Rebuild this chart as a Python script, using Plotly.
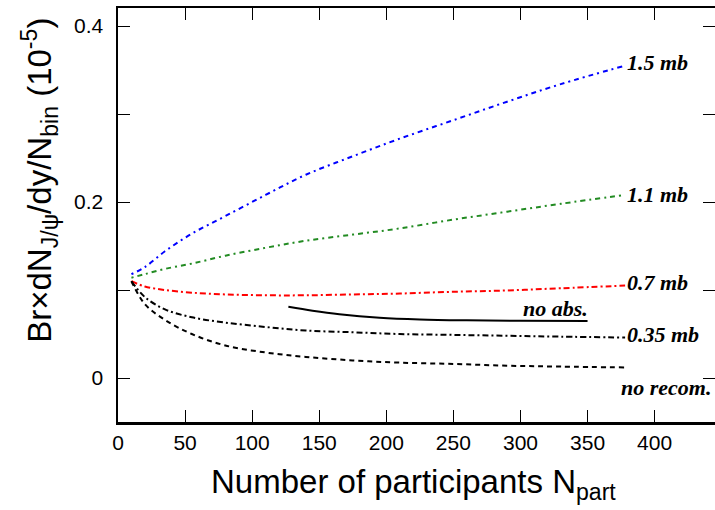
import plotly.graph_objects as go

# Data
npart = [10, 20, 35, 55, 80, 110, 140, 175, 210, 250, 290, 330, 378]
y_15mb = [0.118, 0.126, 0.144, 0.164, 0.184, 0.208, 0.231, 0.252, 0.272, 0.293, 0.314, 0.334, 0.355]
y_11mb = [0.114, 0.118, 0.124, 0.130, 0.139, 0.148, 0.156, 0.163, 0.170, 0.180, 0.189, 0.198, 0.208]
y_07mb = [0.110, 0.104, 0.100, 0.097, 0.095, 0.094, 0.094, 0.095, 0.096, 0.098, 0.0995, 0.102, 0.105]
y_035mb = [0.110, 0.092, 0.078, 0.069, 0.063, 0.058, 0.054, 0.052, 0.050, 0.049, 0.048, 0.047, 0.046]
y_norecom = [0.110, 0.084, 0.066, 0.050, 0.037, 0.029, 0.024, 0.020, 0.0175, 0.016, 0.014, 0.013, 0.012]
npart_noabs = [127, 145, 165, 195, 225, 260, 300, 350]
y_noabs = [0.081, 0.0765, 0.0725, 0.0685, 0.0665, 0.0655, 0.065, 0.0648]

x_ticks = [0, 50, 100, 150, 200, 250, 300, 350, 400]
y_ticks = [0, 0.1, 0.2, 0.3, 0.4]
y_ticktext = ["0", "", "0.2", "", "0.4"]

fig = go.Figure()

def add(x, y, color, dash, width=2):
    fig.add_trace(go.Scatter(x=x, y=y, mode="lines",
                             line=dict(color=color, dash=dash, width=width, shape="spline"),
                             showlegend=False, hoverinfo="skip"))

add(npart, y_15mb, "#0000ff", "2px,4px,5px,4px")
add(npart, y_11mb, "#228b22", "2px,4px,5px,4px")
add(npart, y_07mb, "#ff0000", "6px,3px,2px,3px")
add(npart, y_035mb, "#000000", "6px,3px,2px,3px")
add(npart, y_norecom, "#000000", "5px,4px")
add(npart_noabs, y_noabs, "#000000", "solid")

lab_font = dict(family="Liberation Serif", size=22, color="black")
labels = [
    (379, 0.358, "<b><i>1.5 mb</i></b>", "left"),
    (379, 0.208, "<b><i>1.1 mb</i></b>", "left"),
    (379, 0.108, "<b><i>0.7 mb</i></b>", "left"),
    (351, 0.0795, "<b><i>no abs.</i></b>", "right"),
    (379, 0.049, "<b><i>0.35 mb</i></b>", "left"),
    (443, -0.011, "<b><i>no recom.</i></b>", "right"),
]
for x, y, t, xa in labels:
    fig.add_annotation(x=x, y=y, text=t, showarrow=False, xanchor=xa, yanchor="middle",
                       font=lab_font, borderpad=0)

title_font = dict(family="Liberation Sans", size=33, color="black")
# y-axis title as annotation
fig.add_annotation(xref="paper", yref="paper", x=-0.1307, y=0.585, xanchor="center", yanchor="middle",
                   text="Br×dN<sub>J/ψ</sub>/dy/N<sub>bin</sub> (10<sup>-5</sup>)", textangle=-90,
                   showarrow=False, font=title_font)
# x-axis title as annotation
fig.add_annotation(xref="paper", yref="paper", x=0.495, y=-0.095, xanchor="center", yanchor="top",
                   text="Number of participants N<sub>part</sub>",
                   showarrow=False, font=title_font)

axis_common = dict(showline=True, linecolor="black", linewidth=2.5, mirror="ticks",
                   ticks="inside", ticklen=12, tickwidth=1, tickcolor="black",
                   showgrid=False, zeroline=False, automargin=False,
                   tickfont=dict(family="Liberation Sans", size=21, color="black"))

fig.update_xaxes(range=[0, 445], tickvals=x_ticks, **axis_common)
fig.update_yaxes(range=[-0.05, 0.4205], tickvals=y_ticks, ticktext=y_ticktext,
                 ticklabelstandoff=8, **axis_common)

fig.update_layout(width=715, height=510, margin=dict(l=118, r=0, t=8, b=88),
                  plot_bgcolor="white", paper_bgcolor="white")

fig.write_html("out.html", config={"displayModeBar": False, "staticPlot": True},
               post_script="document.body.style.margin='0';document.body.style.overflow='hidden';")
